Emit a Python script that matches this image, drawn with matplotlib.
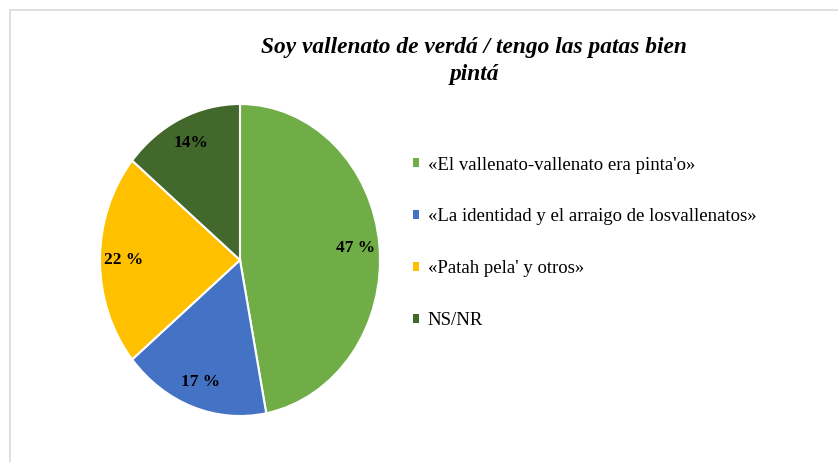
import matplotlib
matplotlib.use("Agg")
import matplotlib.pyplot as plt
from matplotlib.patches import Rectangle, Patch

# data
shares = [47, 17, 22, 14]
pct_labels = ["47 %", "17 %", "22 %", "14%"]
legend_labels = [
    "«El vallenato-vallenato era pinta'o»",
    "«La identidad y el arraigo de losvallenatos»",
    "«Patah pela' y otros»",
    "NS/NR",
]
colors = ["#70AD47", "#4472C4", "#FFC000", "#43682B"]
title = "Soy vallenato de verdá / tengo las patas bien\npintá"

plt.rcParams["font.family"] = ["Liberation Serif", "DejaVu Serif"]

W, H = 838, 462
fig = plt.figure(figsize=(W / 100, H / 100), dpi=100)

# light frame of the chart area (runs off right/bottom edges)
fig.patches.append(Rectangle((10 / W, -0.1), 1.2, 1 - 9.5 / H + 0.1,
                             transform=fig.transFigure, fill=False,
                             edgecolor="#D9D9D9", linewidth=1.2))

# pie axes: reference pie is slightly taller than wide
ax = fig.add_axes([100 / W, 46 / H, 280 / W, 312 / H])
wedges, texts = ax.pie(shares, colors=colors, startangle=90, counterclock=False,
                       labels=pct_labels, labeldistance=0.83,
                       wedgeprops=dict(edgecolor="white", linewidth=1.5))
for t in texts:
    t.set_ha("center")
    t.set_va("center")
    t.set_fontsize(12.5)
    t.set_fontweight("bold")
ax.set_aspect("auto")
ax.set_xlim(-1, 1)
ax.set_ylim(-1, 1)

fig.text(474 / W, 1 - 61 / H, title, ha="center", va="center",
         fontsize=16.8, fontweight="bold", fontstyle="italic", linespacing=1.35)

handles = [Patch(facecolor=c) for c in colors]
fig.legend(handles, legend_labels, loc="upper left",
           bbox_to_anchor=(405 / W, 1 - 149 / H), frameon=False,
           fontsize=13.5, handlelength=0.35, handleheight=0.35,
           handletextpad=0.45, labelspacing=1.86, borderaxespad=0)

fig.savefig("out.png", dpi=100)
